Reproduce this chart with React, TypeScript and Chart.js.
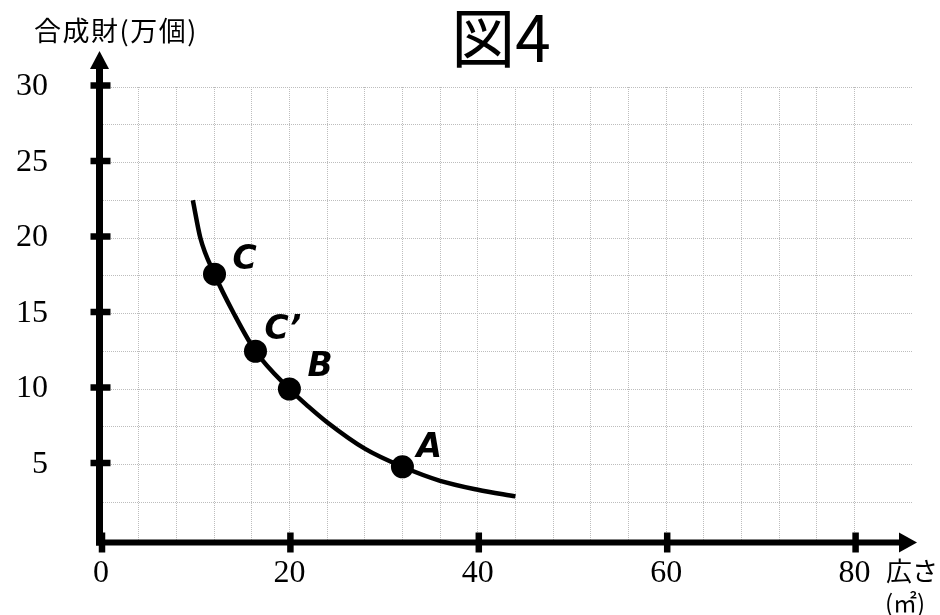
import React, { useEffect, useRef } from 'react';
import { Chart, registerables } from 'chart.js';

Chart.register(...registerables);

// ---- data ----
const curveX = [9.75, 10.55, 12.05, 14.1, 16.4, 20.0, 22.0, 24.0, 28.0, 32.0, 36.0, 40.0, 44.0];
const curveY = [22.5, 20.0, 17.6, 15.0, 12.5, 10.0, 8.85, 7.8, 6.05, 4.85, 3.92, 3.33, 2.89];
const pointNames = ['C', 'C\u2019', 'B', 'A'];
const pointX = [12.05, 16.4, 20.0, 32.0];
const pointY = [17.6, 12.5, 10.0, 4.85];
const xGridValues = [0, 4, 8, 12, 16, 20, 24, 28, 32, 36, 40, 44, 48, 52, 56, 60, 64, 68, 72, 76, 80];
const yGridValues = [0, 2.5, 5, 7.5, 10, 12.5, 15, 17.5, 20, 22.5, 25, 27.5, 30];
const xTickLabels = [0, 20, 40, 60, 80];
const yTickLabels = [5, 10, 15, 20, 25, 30];
const titleText = '図4';
const yAxisTitle = '合成財(万個)';
const xAxisTitle = ['広さ', '(㎡)'];

// ---- styles ----
const labelOffsets = [[18, -5], [9, -12], [18, -13], [14, -10]];
const CJK = '"Noto Sans CJK JP", "Noto Sans", sans-serif';

const decorPlugin = {
  id: 'decor',
  beforeDatasetsDraw(chart: any) {
    const ctx = chart.ctx;
    const xs = chart.scales.x;
    const ys = chart.scales.y;
    const x0 = xs.getPixelForValue(0);
    const y0 = ys.getPixelForValue(0);
    ctx.save();
    ctx.fillStyle = '#000';
    ctx.strokeStyle = '#000';
    ctx.lineCap = 'butt';
    // x axis
    const axY = y0 + 2.5;
    const axX = x0 - 1.5;
    ctx.lineWidth = 6;
    ctx.beginPath();
    ctx.moveTo(axX - 3.5, axY);
    ctx.lineTo(901, axY);
    ctx.stroke();
    ctx.beginPath();
    ctx.moveTo(917, axY);
    ctx.lineTo(899, axY - 10);
    ctx.lineTo(899, axY + 10);
    ctx.closePath();
    ctx.fill();
    // y axis
    ctx.lineWidth = 7;
    ctx.beginPath();
    ctx.moveTo(axX, axY + 3);
    ctx.lineTo(axX, 67);
    ctx.stroke();
    ctx.beginPath();
    ctx.moveTo(axX, 51);
    ctx.lineTo(axX - 9.5, 69);
    ctx.lineTo(axX + 9.5, 69);
    ctx.closePath();
    ctx.fill();
    // y tick marks
    ctx.lineWidth = 6.5;
    yTickLabels.forEach((v) => {
      const p = ys.getPixelForValue(v) - 1.5;
      ctx.beginPath();
      ctx.moveTo(axX - 9, p);
      ctx.lineTo(axX + 11, p);
      ctx.stroke();
    });
    // x tick marks
    ctx.lineWidth = 6.5;
    xTickLabels.forEach((v) => {
      const p = xs.getPixelForValue(v) + 1;
      ctx.beginPath();
      ctx.moveTo(p, axY - 10);
      ctx.lineTo(p, axY + 10);
      ctx.stroke();
    });
    ctx.restore();
  },
  afterDraw(chart: any) {
    const ctx = chart.ctx;
    const meta = chart.getDatasetMeta(1);
    ctx.save();
    ctx.fillStyle = '#000';
    // point labels
    ctx.font = 'italic bold 33px "DejaVu Sans", sans-serif';
    ctx.textAlign = 'left';
    ctx.textBaseline = 'alphabetic';
    meta.data.forEach((el: any, i: number) => {
      const [dx, dy] = labelOffsets[i];
      ctx.fillText(pointNames[i], el.x + dx, el.y + dy);
    });
    // title
    ctx.font = `64px ${CJK}`;
    ctx.textAlign = 'center';
    ctx.textBaseline = 'middle';
    ctx.fillText(titleText, 501, 38);
    // y axis title
    ctx.font = `27px ${CJK}`;
    ctx.textAlign = 'left';
    ctx.textBaseline = 'alphabetic';
    (ctx as any).letterSpacing = '1.5px';
    ctx.fillText(yAxisTitle, 34, 41);
    (ctx as any).letterSpacing = '0px';
    // x axis title
    ctx.font = `26px ${CJK}`;
    ctx.fillText(xAxisTitle[0], 886, 581);
    ctx.font = `24px ${CJK}`;
    ctx.fillText(xAxisTitle[1], 885, 612);
    ctx.restore();
  },
};

export default function App() {
  const ref = useRef<HTMLCanvasElement | null>(null);
  useEffect(() => {
    if (!ref.current) return;
    const gridColor = '#bdbdbd';
    const chart = new Chart(ref.current, {
      type: 'line',
      data: {
        datasets: [
          {
            data: curveX.map((x, i) => ({ x, y: curveY[i] })),
            borderColor: '#000',
            borderWidth: 4.5,
            pointRadius: 0,
            cubicInterpolationMode: 'monotone',
            fill: false,
            order: 1,
          },
          {
            data: pointX.map((x, i) => ({ x, y: pointY[i] })),
            showLine: false,
            pointRadius: 11.5,
            pointBackgroundColor: '#000',
            pointBorderColor: '#000',
            pointBorderWidth: 0,
            order: 0,
          },
        ],
      } as any,
      options: {
        animation: false,
        responsive: false,
        events: [],
        layout: { padding: { left: 0, right: 27, top: 87, bottom: 0 } },
        plugins: { legend: { display: false }, title: { display: false }, tooltip: { enabled: false } },
        scales: {
          x: {
            type: 'linear',
            position: 'bottom',
            min: 0,
            max: 86.2,
            afterBuildTicks: (s: any) => {
              s.ticks = xGridValues.map((v) => ({ value: v }));
            },
            afterFit: (s: any) => {
              s.height = 75;
            },
            grid: { color: gridColor, lineWidth: 1, drawTicks: false },
            border: { display: false, dash: [1, 1] },
            ticks: {
              autoSkip: false,
              maxRotation: 0,
              padding: 14,
              color: '#000',
              font: { family: '"Liberation Serif", "Times New Roman", serif', size: 32 },
              callback: (v: any) => (xTickLabels.includes(Number(v)) ? String(v) : ''),
            },
          },
          y: {
            type: 'linear',
            position: 'left',
            min: 0,
            max: 30,
            afterBuildTicks: (s: any) => {
              s.ticks = yGridValues.map((v) => ({ value: v }));
            },
            afterFit: (s: any) => {
              s.width = 101;
            },
            grid: { color: gridColor, lineWidth: 1, drawTicks: false },
            border: { display: false, dash: [1, 1] },
            ticks: {
              autoSkip: false,
              padding: 53,
              color: '#000',
              font: { family: '"Liberation Serif", "Times New Roman", serif', size: 32 },
              callback: (v: any) => (yTickLabels.includes(Number(v)) ? String(v) : ''),
            },
          },
        },
      } as any,
      plugins: [decorPlugin],
    });
    return () => chart.destroy();
  }, []);
  return (
    <div style={{ position: 'fixed', left: 0, top: 0, width: 940, height: 615, background: '#fff' }}>
      <canvas ref={ref} width={940} height={615} style={{ display: 'block', width: 940, height: 615 }} />
    </div>
  );
}
